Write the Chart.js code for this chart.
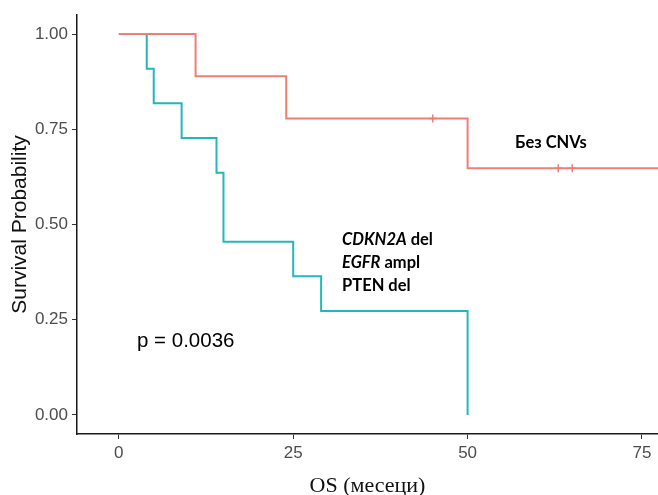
<!DOCTYPE html>
<html>
<head>
<meta charset="utf-8">
<title>OS</title>
<script src="https://cdn.jsdelivr.net/npm/chart.js@4"></script>
<style>
  body { margin: 0; background: #fff; }
  canvas { display: block; }
</style>
</head>
<body>
<canvas id="kmChart" width="658" height="495"></canvas>
<script>
/* =========================
   DATA
========================= */

// Без CNVs group
const noCnvTimes = [0, 11, 24, 50, 78];
const noCnvSurv = [1.0, 0.889, 0.778, 0.648, 0.648];
const noCnvCensorTimes = [45, 63, 65];
const noCnvCensorSurv = [0.778, 0.648, 0.648];

// CDKN2A del / EGFR ampl / PTEN del group
const cnvTimes = [0, 4, 5, 9, 14, 15, 25, 29, 50];
const cnvSurv = [1.0, 0.909, 0.818, 0.727, 0.636, 0.455, 0.364, 0.273, 0.0];

const xTicks = [0, 25, 50, 75];
const yTicks = [0, 0.25, 0.5, 0.75, 1];

const pValue = "p = 0.0036";
const noCnvLabel = "Без CNVs";
const cnvLabel = [
    [["CDKN2A", true], [" del", false]],
    [["EGFR", true], [" ampl", false]],
    [["PTEN del", false]]
];

const RED = "#ec7f77";
const TEAL = "#25b6b8";

function toPoints(xs, ys) {
    return xs.map((t, i) => ({ x: t, y: ys[i] }));
}

/* =========================
   TEXT LABELS ON THE PLOT
========================= */

const notes = {
    id: "notes",
    afterDatasetsDraw(chart) {
        const { ctx, scales: { x, y } } = chart;
        ctx.save();
        ctx.fillStyle = "#000";
        ctx.textBaseline = "alphabetic";
        ctx.textAlign = "left";

        ctx.font = "bold 16.5px Lato";
        ctx.fillText(noCnvLabel, x.getPixelForValue(56.8), y.getPixelForValue(0.702));

        // gene names in italics, the rest upright
        let py = y.getPixelForValue(0.445);
        const px = x.getPixelForValue(32);
        cnvLabel.forEach(parts => {
            let cx = px;
            parts.forEach(([txt, italic]) => {
                ctx.font = (italic ? "italic " : "") + "bold 16.5px Lato";
                ctx.fillText(txt, cx, py);
                cx += ctx.measureText(txt).width;
            });
            py += 23;
        });

        ctx.font = "20.5px 'Liberation Sans'";
        ctx.fillText(pValue, x.getPixelForValue(2.6), y.getPixelForValue(0.178));
        ctx.restore();
    }
};

/* =========================
   CHART
========================= */

const axisFont = { family: "'Liberation Sans', Arial, sans-serif", size: 17 };

new Chart(document.getElementById("kmChart"), {
    type: "scatter",
    data: {
        datasets: [
            {
                data: toPoints(noCnvTimes, noCnvSurv),
                showLine: true,
                stepped: "before",
                borderColor: RED,
                borderWidth: 2,
                pointRadius: 0
            },
            {
                data: toPoints(cnvTimes, cnvSurv),
                showLine: true,
                stepped: "before",
                borderColor: TEAL,
                borderWidth: 2,
                pointRadius: 0
            },
            {
                data: toPoints(noCnvCensorTimes, noCnvCensorSurv),
                showLine: false,
                pointStyle: "cross",
                pointRadius: 4,
                pointBorderWidth: 1.5,
                borderColor: RED
            }
        ]
    },
    options: {
        responsive: false,
        animation: false,
        devicePixelRatio: 1,
        layout: {
            autoPadding: false,
            padding: { top: 15, right: 0, left: 0, bottom: 0 }
        },
        plugins: {
            legend: { display: false },
            tooltip: { enabled: false }
        },
        scales: {
            x: {
                type: "linear",
                min: -6,
                max: 77.3,
                afterBuildTicks: s => { s.ticks = xTicks.map(v => ({ value: v })); },
                afterFit: s => {
                    s.height = 61;
                    s.paddingLeft = 0;
                    s.paddingRight = 0;
                },
                grid: { drawOnChartArea: false, tickLength: 5, tickColor: "#333" },
                border: { color: "#1a1a1a", width: 1.5 },
                ticks: { color: "#4d4d4d", font: axisFont, padding: 4, maxRotation: 0, autoSkip: false },
                title: {
                    display: true,
                    text: "OS (месеци)",
                    color: "#111",
                    font: { family: "'Liberation Serif', 'Times New Roman', serif", size: 22, lineHeight: 1 },
                    padding: { top: 0, bottom: -2 }
                }
            },
            y: {
                min: -0.05,
                max: 1.05,
                afterBuildTicks: s => { s.ticks = yTicks.map(v => ({ value: v })); },
                afterFit: s => {
                    s.width = 77;
                    s.paddingTop = 0;
                    s.paddingBottom = 0;
                },
                grid: { drawOnChartArea: false, tickLength: 5, tickColor: "#333" },
                border: { color: "#1a1a1a", width: 1.5 },
                ticks: {
                    color: "#4d4d4d",
                    font: axisFont,
                    padding: 4,
                    autoSkip: false,
                    callback: v => v.toFixed(2)
                },
                title: {
                    display: true,
                    text: "Survival Probability",
                    color: "#111",
                    font: { family: "'Liberation Sans', Arial, sans-serif", size: 21 },
                    padding: { top: 8, bottom: 0 }
                }
            }
        }
    },
    plugins: [notes]
});
</script>
</body>
</html>
